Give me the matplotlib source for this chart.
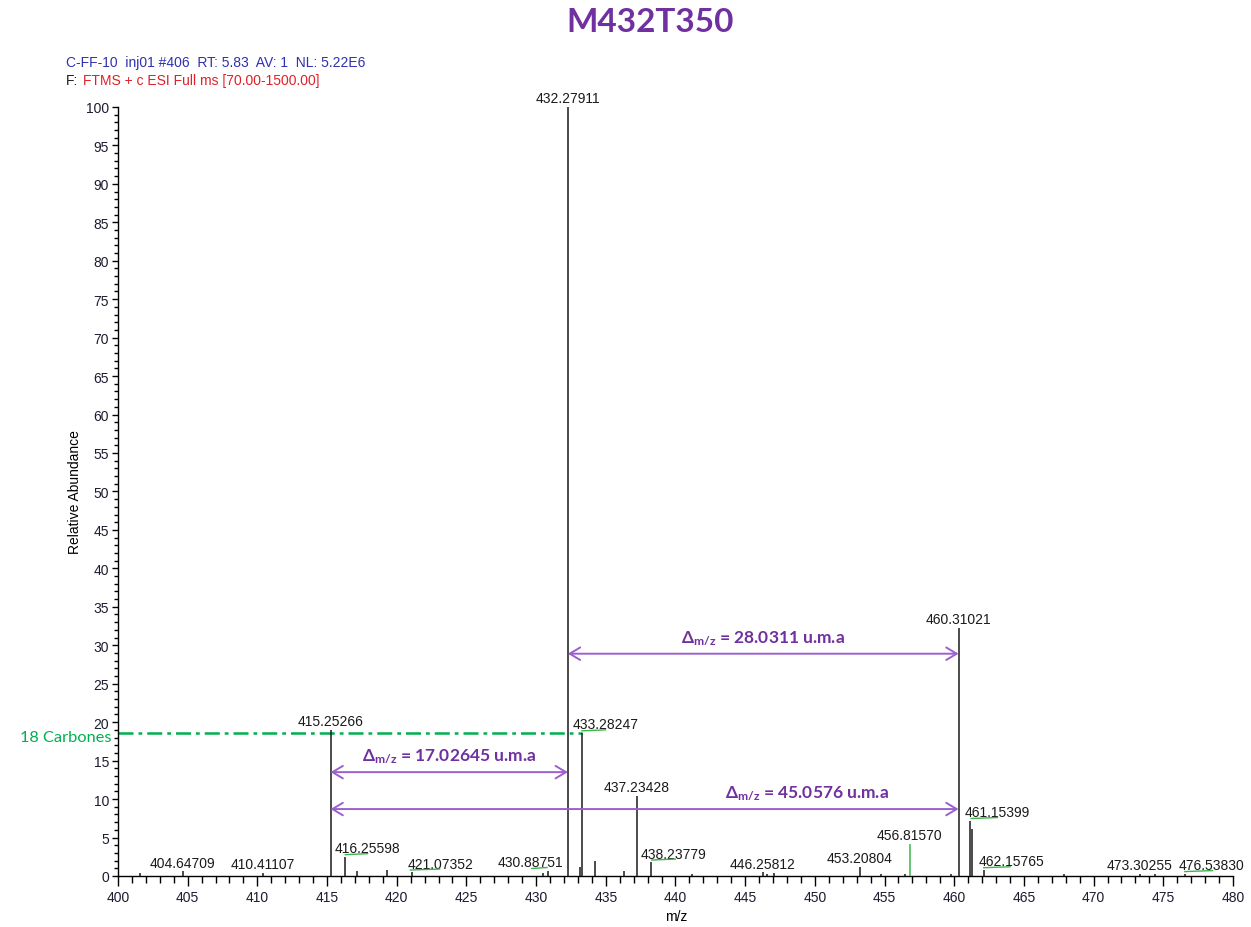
import matplotlib
matplotlib.use('Agg')
import matplotlib.pyplot as plt
from matplotlib.ticker import MultipleLocator
from matplotlib.lines import Line2D
from matplotlib import transforms

# Base fonts: Arial-like for the instrument text, Calibri-like for annotations
plt.rcParams['font.family'] = ['Liberation Sans', 'DejaVu Sans']
plt.rcParams['font.size'] = 10
plt.rcParams['mathtext.fontset'] = 'custom'
plt.rcParams['mathtext.rm'] = 'Lato:bold'
plt.rcParams['mathtext.bf'] = 'Lato:bold'
plt.rcParams['mathtext.it'] = 'Lato:bold'

PURPLE = '#7030A0'
ARROW_PURPLE = '#9B5FCF'
GREEN = '#00B050'
ULINE_GREEN = '#3CB54A'

# Centroided spectrum (m/z, relative abundance %)
MZ = [401.60, 404.64709, 410.41107, 415.25266, 416.25598, 417.15, 419.30,
      421.07352, 430.50, 430.88751, 432.27911, 433.15, 433.28247, 434.25,
      436.30, 437.23428, 438.23779, 441.20, 446.25812, 446.60, 447.10,
      453.20804, 454.75, 456.50, 456.81570, 459.80, 460.31021, 461.15399,
      461.30, 462.15765, 467.90, 473.30255, 474.40, 476.53830]
INTENSITY = [0.4, 0.6, 0.4, 19.0, 2.5, 0.6, 0.8,
             0.5, 0.4, 0.7, 100.0, 1.2, 18.6, 2.0,
             0.7, 10.4, 1.8, 0.3, 0.5, 0.3, 0.4,
             1.2, 0.3, 0.3, 4.2, 0.3, 32.3, 7.2,
             6.1, 0.8, 0.3, 0.3, 0.3, 0.3]

# Peaks that carry an m/z label
LABELED = [404.64709, 410.41107, 415.25266, 416.25598, 421.07352, 430.88751,
           432.27911, 433.28247, 437.23428, 438.23779, 446.25812, 453.20804,
           456.81570, 460.31021, 461.15399, 462.15765, 473.30255, 476.53830]

# Mass differences drawn as double arrows: (from, to, decimals)
DELTAS = [(432.27911, 460.31021, 4),
          (415.25266, 432.27911, 5),
          (415.25266, 460.31021, 4)]

CARBON_PEAK = 433.28247

# --- layout ---------------------------------------------------------------
# horizontal label nudges (m/z units) where labels would collide
LABEL_SHIFT = {416.25598: 1.65, 421.07352: 2.1, 430.88751: -1.3,
               433.28247: 1.7, 438.23779: 1.65, 461.15399: 1.95,
               462.15765: 1.95, 476.53830: 1.9}
# little green marks under some labels, in points from the label anchor
UNDERLINE = {416.25598: (-16, 0), 421.07352: (-22, -1), 430.88751: (1, 12),
             433.28247: (-17, 0), 438.23779: (-16, 1), 461.15399: (-19, 0),
             462.15765: (-20, -1), 476.53830: (-19, 1)}
ARROW_Y = [28.9, 13.5, 8.7]
DELTA_TEXT_X = [None, None, 449.4]

peaks = dict(zip(MZ, INTENSITY))

fig = plt.figure(figsize=(12.51, 9.28), dpi=100)
ax = fig.add_axes([0.0943, 0.0550, 0.8913, 0.8287])

# stick spectrum
colors = [ULINE_GREEN if m == 456.81570 else '#1a1a1a' for m in MZ]
ax.vlines(MZ, 0, INTENSITY, colors=colors, linewidth=1.1, zorder=3)

# peak labels
for mz in LABELED:
    h = peaks[mz]
    x = mz + LABEL_SHIFT.get(mz, 0.0)
    ax.annotate(f'{mz:.5f}', xy=(x, h), xytext=(0, 3.3),
                textcoords='offset points', ha='center', va='baseline',
                fontsize=10, color='#1a1a1a', zorder=4)
    if mz in UNDERLINE:
        p0, p1 = UNDERLINE[mz]
        tr = (transforms.Affine2D().scale(fig.dpi / 72.0)
              + transforms.ScaledTranslation(x, h, ax.transData))
        ax.add_line(Line2D([p0, p1], [1.5, 2.2], transform=tr,
                           color=ULINE_GREEN, linewidth=1.0, zorder=4))

# 18 carbon reference level
carbon_level = peaks[CARBON_PEAK]
ax.plot([400, CARBON_PEAK], [carbon_level, carbon_level], color=GREEN,
        linewidth=1.8, linestyle=(0, (6, 2, 1.5, 2)), zorder=2)
ax.text(-0.006, carbon_level - 0.5, '18 Carbones',
        transform=ax.get_yaxis_transform(), ha='right', va='center',
        fontsize=11.8, color=GREEN, family=['Lato', 'DejaVu Sans'])

# mass difference arrows
for (m1, m2, dec), y, tx in zip(DELTAS, ARROW_Y, DELTA_TEXT_X):
    ax.annotate('', xy=(m2, y), xytext=(m1, y),
                arrowprops=dict(arrowstyle='<->,head_length=0.75,head_width=0.45',
                                color=ARROW_PURPLE, linewidth=1.4,
                                shrinkA=0, shrinkB=0), zorder=5)
    diff = round(m2 - m1 + 1e-9, dec)
    if tx is None:
        tx = (m1 + m2) / 2
    ax.annotate(r'$\mathbf{\Delta}_{\mathbf{m/z}}$' + f' = {diff:.{dec}f} u.m.a',
                xy=(tx, y), xytext=(0, 9), textcoords='offset points',
                ha='center', va='baseline', fontsize=12.5, fontweight='bold',
                color=PURPLE, family=['Lato', 'DejaVu Sans'], zorder=5)

# axes styling
ax.set_xlim(400, 480)
ax.set_ylim(0, 100)
ax.xaxis.set_major_locator(MultipleLocator(5))
ax.xaxis.set_minor_locator(MultipleLocator(1))
ax.yaxis.set_major_locator(MultipleLocator(5))
ax.yaxis.set_minor_locator(MultipleLocator(1))
ax.tick_params(axis='x', which='major', length=7, width=1, pad=3,
               labelsize=10, labelcolor='#1c1c30')
ax.tick_params(axis='x', which='minor', length=5, width=1)
ax.tick_params(axis='y', which='major', length=4.5, width=1, pad=2,
               labelsize=10, labelcolor='#1c1c30')
ax.tick_params(axis='y', which='minor', length=3, width=1)
for side in ('top', 'right'):
    ax.spines[side].set_visible(False)
for side in ('left', 'bottom'):
    ax.spines[side].set_linewidth(1.0)

ax.set_xlabel('m/z', fontsize=10)
ax.xaxis.set_label_coords(0.501, -0.043)
ax.set_ylabel('Relative Abundance', fontsize=10)
ax.yaxis.set_label_coords(-0.032, 0.5)

# header lines from the acquisition software
fig.text(0.0528, 0.9278, 'C-FF-10  inj01 #406  RT: 5.83  AV: 1  NL: 5.22E6',
         fontsize=10, color='#3030B0', va='baseline')
fig.text(0.0528, 0.9084, 'F:', fontsize=10, color='#202020', va='baseline')
fig.text(0.0663, 0.9084, 'FTMS + c ESI Full ms [70.00-1500.00]',
         fontsize=10, color='#E0202A', va='baseline')

fig.text(0.52, 0.976, 'M432T350', ha='center', va='center', fontsize=24,
         fontweight='bold', color=PURPLE, family=['Lato', 'DejaVu Sans'])

fig.savefig('out.png', dpi=100)
